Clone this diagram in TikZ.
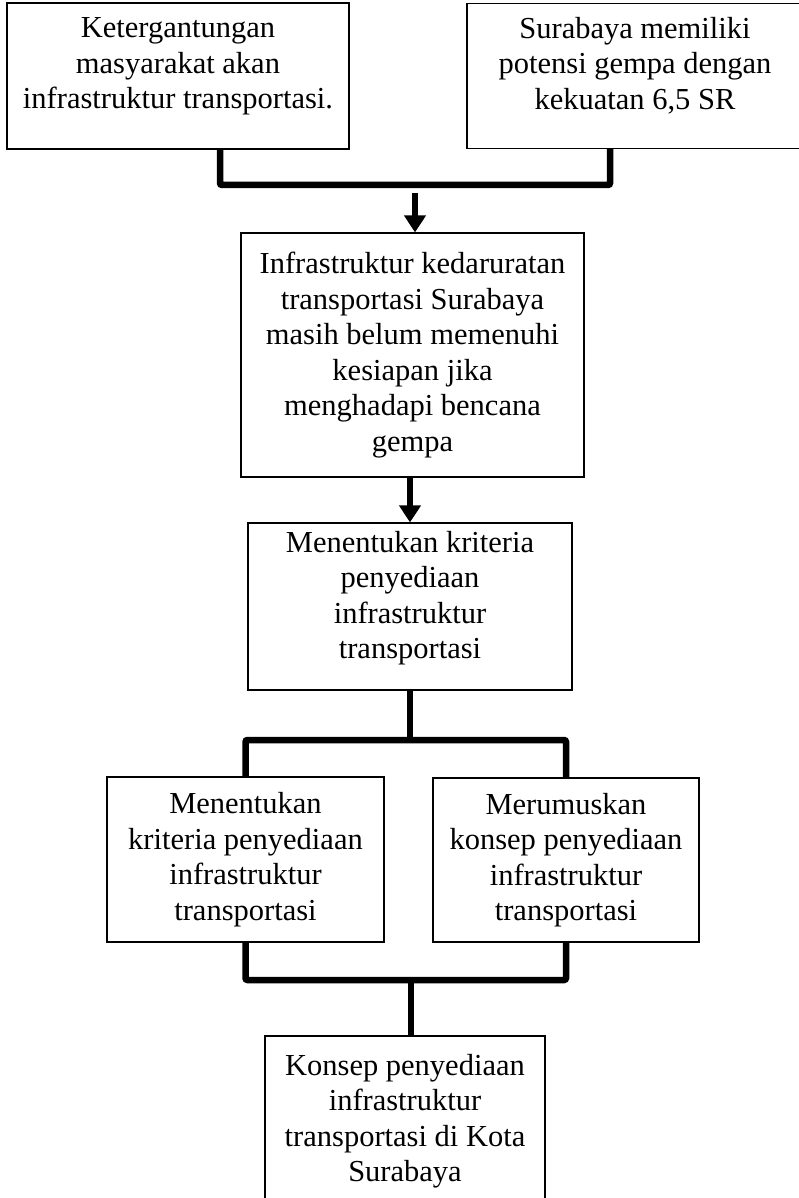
\documentclass[tikz,border=0pt]{standalone}
\usepackage{fontspec}
\setmainfont{Liberation Serif}
\usepackage{tikz}
\usetikzlibrary{arrows.meta,positioning}

\begin{document}
\begin{tikzpicture}[
  x=1pt, y=-1pt,
  font=\fontsize{30.5}{35.5}\selectfont,
  box/.style={draw, line width=1.2pt, align=center, inner sep=0pt},
  bracket/.style={line width=6.5pt, rounded corners=2pt},
  arr/.style={line width=6.5pt, -{Triangle[length=17pt, width=21pt]}}
]
\useasboundingbox (0,0) rectangle (799,1198);
% top row
\node[box, minimum width=342pt, minimum height=146pt] (depend) at (178,76)
  {Ketergantungan\\masyarakat akan\\infrastruktur transportasi.\\[-10pt]};
\node[box, minimum width=336pt, minimum height=145pt] (quake) at (635,76)
  {Surabaya memiliki\\potensi gempa dengan\\kekuatan 6,5 SR\\[-10pt]};
\coordinate (j1) at (415,185);
\coordinate (a1) at (415,193);
% main chain
\node[box, minimum width=343pt, minimum height=244pt] (problem) at (412.5,355)
  {Infrastruktur kedaruratan\\transportasi Surabaya\\masih belum memenuhi\\kesiapan jika\\menghadapi bencana\\gempa};
\node[box, minimum width=324pt, minimum height=167pt] (criteria) at (410,606.5)
  {Menentukan kriteria\\penyediaan\\infrastruktur\\transportasi\\[-12pt]};
\coordinate (j2) at (410,740);
\node[box, minimum width=277pt, minimum height=165pt] (critsub) at (245.5,859.5)
  {Menentukan\\kriteria penyediaan\\infrastruktur\\transportasi};
\node[box, minimum width=266pt, minimum height=164pt] (concept) at (566,860)
  {Merumuskan\\konsep penyediaan\\infrastruktur\\transportasi};
\coordinate (j3) at (411,980);
\node[box, minimum width=280pt, minimum height=170pt] (final) at (405,1121)
  {Konsep penyediaan\\infrastruktur\\transportasi di Kota\\Surabaya};
% connectors
\draw[bracket] ([xshift=42pt]depend.south) |- (j1) -| ([xshift=-25pt]quake.south);
\draw[arr] (a1) -- (a1 |- problem.north);
\draw[arr] (problem.south -| criteria.north) -- (criteria.north);
\draw[bracket] (criteria.south) -- (j2);
\draw[bracket] (critsub.north) |- (j2) -| (concept.north);
\draw[bracket] (critsub.south) |- (j3) -| (concept.south);
\draw[bracket] (j3) -- (j3 |- final.north);
\end{tikzpicture}
\end{document}
